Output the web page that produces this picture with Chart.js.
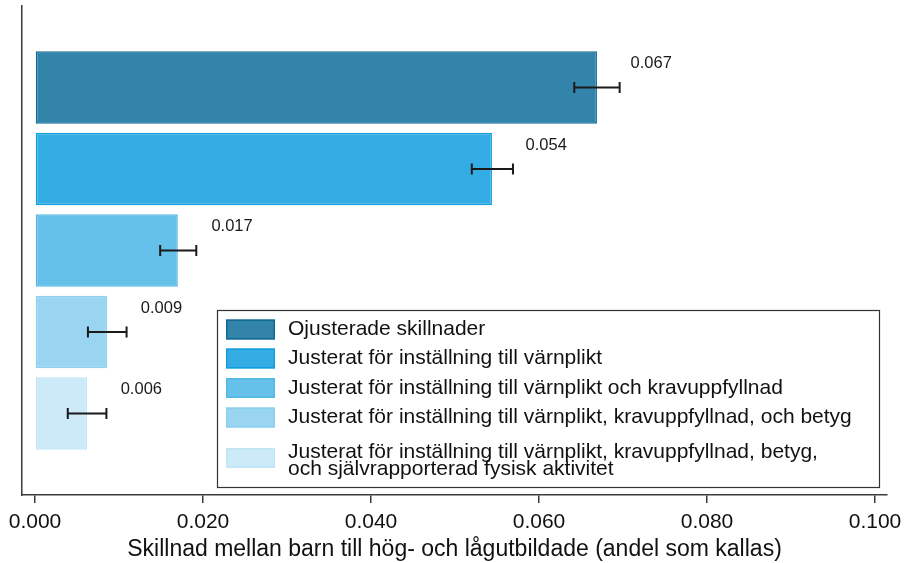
<!DOCTYPE html>
<html>
<head>
<meta charset="utf-8">
<script src="https://cdn.jsdelivr.net/npm/chart.js@4.4.1/dist/chart.umd.min.js"></script>
<style>
  html, body { margin: 0; padding: 0; background: #ffffff; }
  #wrap { width: 904px; height: 563px; }
</style>
</head>
<body>
<div id="wrap"><canvas id="c" width="904" height="563"></canvas></div>
<script>
// ---- data ----
const seriesLabels = [
  'Ojusterade skillnader',
  'Justerat för inställning till värnplikt',
  'Justerat för inställning till värnplikt och kravuppfyllnad',
  'Justerat för inställning till värnplikt, kravuppfyllnad, och betyg',
  'Justerat för inställning till värnplikt, kravuppfyllnad, betyg,\noch självrapporterad fysisk aktivitet'
];
const values  = [0.0669, 0.0544, 0.0170, 0.0086, 0.0062];
const ciLow   = [0.0642, 0.0520, 0.0149, 0.0063, 0.0039];
const ciHigh  = [0.0696, 0.0569, 0.0192, 0.0109, 0.0085];
const xTicks  = [0.000, 0.020, 0.040, 0.060, 0.080, 0.100];
const xTitle  = 'Skillnad mellan barn till hög- och lågutbildade (andel som kallas)';

// ---- styles ----
const fills   = ['rgb(51,132,171)', 'rgb(51,173,227)', 'rgb(102,193,234)', 'rgb(153,213,240)', 'rgb(204,234,247)'];
const borders = ['rgb(16,106,150)', 'rgb(18,158,221)', 'rgb(84,184,230)', 'rgb(138,207,238)', 'rgb(192,229,246)'];
const FONT = "'Liberation Sans', Arial, Helvetica, sans-serif";
const axisColor = '#3a3a3a';

const datasets = values.map((v, i) => ({
  label: seriesLabels[i],
  data: [{ x: v, y: i }],
  backgroundColor: fills[i],
  borderColor: borders[i],
  borderWidth: 1.5,
  borderSkipped: false,
  grouped: false,
  categoryPercentage: 1,
  barPercentage: 0.89
}));

const extras = {
  id: 'extras',
  afterDatasetsDraw(chart) {
    const ctx = chart.ctx;
    const xs = chart.scales.x, ys = chart.scales.y;
    ctx.save();
    // error bars
    ctx.strokeStyle = '#1a1a1a';
    ctx.lineWidth = 2;
    values.forEach((v, i) => {
      const y = ys.getPixelForValue(i);
      const x1 = xs.getPixelForValue(ciLow[i]);
      const x2 = xs.getPixelForValue(ciHigh[i]);
      ctx.beginPath();
      ctx.moveTo(x1, y); ctx.lineTo(x2, y);
      ctx.moveTo(x1, y - 5.5); ctx.lineTo(x1, y + 5.5);
      ctx.moveTo(x2, y - 5.5); ctx.lineTo(x2, y + 5.5);
      ctx.stroke();
    });
    // value labels
    ctx.fillStyle = '#1a1a1a';
    ctx.font = '16.5px ' + FONT;
    ctx.textAlign = 'left';
    ctx.textBaseline = 'middle';
    values.forEach((v, i) => {
      const x = xs.getPixelForValue(v + 0.004);
      const y = ys.getPixelForValue(i - 0.29);
      ctx.fillText(v.toFixed(3), x, y);
    });
    ctx.restore();
  },
  afterDraw(chart) {
    const ctx = chart.ctx;
    ctx.save();
    // legend box
    const bx = 217.5, by = 310.5, bw = 662, bh = 177;
    ctx.fillStyle = '#ffffff';
    ctx.fillRect(bx, by, bw, bh);
    ctx.strokeStyle = '#333333';
    ctx.lineWidth = 1.2;
    ctx.strokeRect(bx, by, bw, bh);
    const swX = 226, swW = 49, swH = 20, txX = 288;
    const swCenters = [329.5, 358.5, 388, 417.5, 458];
    const txCenters = [329.5, 358.5, 388, 417.5, 461];
    ctx.font = '21px ' + FONT;
    ctx.textAlign = 'left';
    ctx.textBaseline = 'middle';
    chart.data.datasets.forEach((ds, i) => {
      const cy = swCenters[i];
      ctx.fillStyle = ds.backgroundColor;
      ctx.fillRect(swX, cy - swH / 2, swW, swH);
      ctx.strokeStyle = ds.borderColor;
      ctx.lineWidth = 1.5;
      ctx.strokeRect(swX + 0.75, cy - swH / 2 + 0.75, swW - 1.5, swH - 1.5);
      const lines = ds.label.split('\n');
      const lh = 17;
      const y0 = txCenters[i] - (lines.length - 1) * lh / 2;
      ctx.fillStyle = '#111111';
      lines.forEach((ln, k) => ctx.fillText(ln, txX, y0 + k * lh));
    });
    ctx.restore();
  }
};

new Chart(document.getElementById('c'), {
  type: 'bar',
  data: { datasets },
  plugins: [extras],
  options: {
    indexAxis: 'y',
    responsive: false,
    animation: false,
    layout: { padding: { top: 6, right: 17, left: 0, bottom: 0 } },
    plugins: { legend: { display: false }, tooltip: { enabled: false } },
    scales: {
      x: {
        type: 'linear',
        min: -0.00155,
        max: 0.10143,
        afterBuildTicks: s => { s.ticks = xTicks.map(v => ({ value: v })); },
        afterFit: s => { s.height = 68; s.paddingLeft = 0; s.paddingRight = 0; },
        grid: { drawOnChartArea: false, drawTicks: true, tickLength: 8, color: axisColor, lineWidth: 1.5 },
        border: { display: true, color: axisColor, width: 1.5 },
        ticks: {
          color: '#111111',
          font: { family: FONT, size: 21 },
          padding: 7,
          maxRotation: 0,
          autoSkip: false,
          callback: v => Number(v).toFixed(3)
        },
        title: {
          display: true,
          text: xTitle,
          color: '#111111',
          font: { family: FONT, size: 23 },
          padding: { top: 0, bottom: 0 }
        }
      },
      y: {
        type: 'linear',
        reverse: true,
        min: -1,
        max: 5,
        offset: false,
        afterFit: s => { s.width = 22; },
        grid: { display: false },
        border: { display: true, color: axisColor, width: 1.5 },
        ticks: { display: false }
      }
    }
  }
});
</script>
</body>
</html>
